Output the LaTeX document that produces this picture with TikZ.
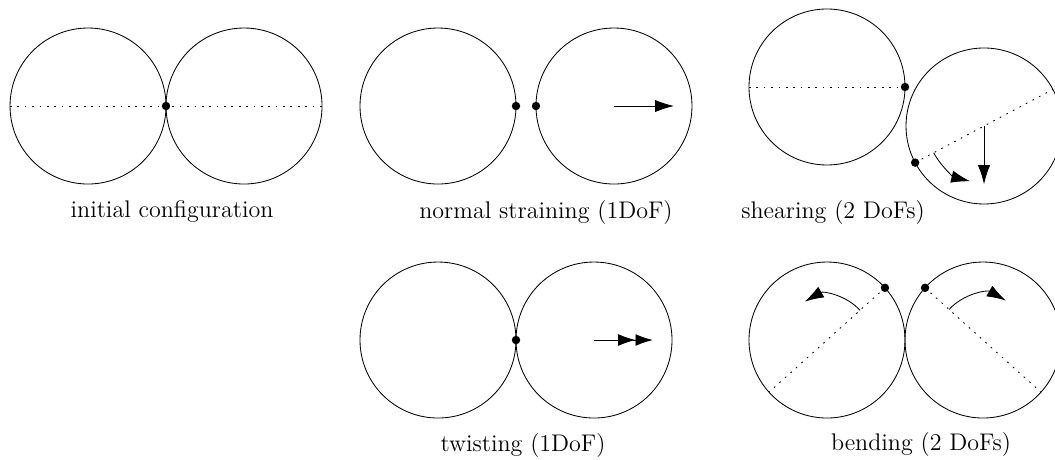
\documentclass[tikz,border=0pt]{standalone}
\usetikzlibrary{arrows.meta,positioning}

\begin{document}
\begin{tikzpicture}[ball/.style={circle,draw,minimum size=2.6cm,inner sep=0pt,outer sep=0pt},
	joint/.style={circle,fill,minimum size=4pt,inner sep=0pt},
	diam/.style={dash pattern=on 0.8pt off 2.7pt},
	push/.style={-{Latex[length=9pt,width=5.8pt]}},
	twist/.style={-{Latex[length=8.2pt,width=5.6pt]Latex[length=8.2pt,width=5.6pt]}},
	every node/.append style={font=\fontsize{11.4}{13}\selectfont}]
	\useasboundingbox (0,0) rectangle (17.583,7.65);
	% initial configuration
	\node[ball] (i1) at (1.467,5.883) {};
	\node[ball] (i2) [right=0pt of i1] {};
	\draw[diam] (i1.west) -- (i2.east);
	\node[joint] (ic) at (i1.east) {};
	\node (il) at (2.867,4.117) {initial configuration};
	% normal straining
	\node[ball] (n1) at (7.3,5.883) {};
	\node[ball] (n2) [right=0.333cm of n1] {};
	\node[joint] (nc1) at (n1.east) {};
	\node[joint] (nc2) at (n2.west) {};
	\coordinate (nf) at ([xshift=1cm]n2.center);
	\draw[push] (n2.center) -- (nf);
	\node (nl) at (9.1,4.1) {normal straining (1DoF)};
	% shearing
	\node[ball] (s1) at (13.783,6.2) {};
	\node[ball] (s2) at (16.4,5.55) {};
	\draw[diam] (s1.west) -- (s1.east);
	\draw[diam] (s2.208) -- (s2.28);
	\node[joint] (sc1) at (s1.east) {};
	\node[joint] (sc2) at (s2.208) {};
	\coordinate (sf) at ([yshift=-0.97cm]s2.center);
	\draw[push] (s2.center) -- (sf);
	\draw[push] ([shift={(208:0.95)}]s2.center) arc[start angle=208,end angle=256,radius=0.95];
	\node (sl) at (13.883,4.107) {shearing (2 DoFs)};
	% twisting
	\node[ball] (t1) at (7.3,1.983) {};
	\node[ball] (t2) [right=0pt of t1] {};
	\node[joint] (tc) at (t1.east) {};
	\coordinate (tf) at ([xshift=0.98cm]t2.center);
	\draw[twist] (t2.center) -- (tf);
	\node (tl) at (8.717,0.22) {twisting (1DoF)};
	% bending
	\node[ball] (b1) at (13.783,1.983) {};
	\node[ball] (b2) [right=0pt of b1] {};
	\draw[diam] (b1.42) -- (b1.222);
	\draw[diam] (b2.138) -- (b2.-42);
	\node[joint] (bc1) at (b1.42) {};
	\node[joint] (bc2) at (b2.138) {};
	\draw[push] ([shift={(42:0.74)}]b1.center) arc[start angle=42,end angle=120,radius=0.74];
	\draw[push] ([shift={(138:0.76)}]b2.center) arc[start angle=138,end angle=60,radius=0.76];
	\node (bl) at (15.35,0.24) {bending (2 DoFs)};
\end{tikzpicture}
\end{document}
